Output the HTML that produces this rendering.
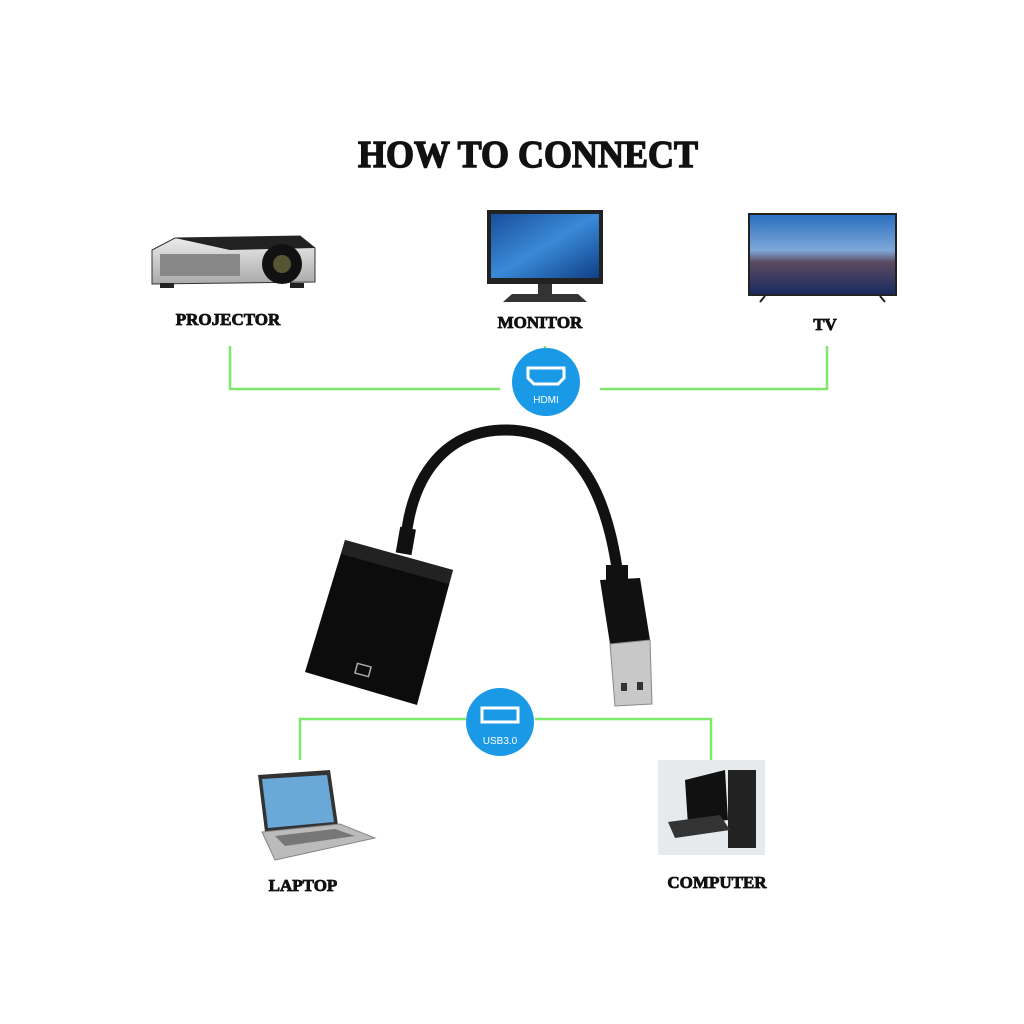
<!DOCTYPE html>
<html><head><meta charset="utf-8"><style>
html,body{margin:0;padding:0;background:#fff;}
svg{display:block}
.t{font-family:"Liberation Serif",serif;font-weight:bold;fill:#111;stroke:#111;stroke-width:0.8;}
</style></head><body>
<svg width="1024" height="1024" viewBox="0 0 1024 1024" xmlns="http://www.w3.org/2000/svg">
<defs>
<linearGradient id="scr" x1="0" y1="0" x2="1" y2="1"><stop offset="0" stop-color="#1a4e9a"/><stop offset="0.5" stop-color="#3a8ad8"/><stop offset="1" stop-color="#0f3f86"/></linearGradient>
<linearGradient id="tv" x1="0" y1="0" x2="0" y2="1"><stop offset="0" stop-color="#2a6fc0"/><stop offset="0.45" stop-color="#7fa8d8"/><stop offset="0.6" stop-color="#5a4a60"/><stop offset="1" stop-color="#1a2a60"/></linearGradient>
<linearGradient id="proj" x1="0" y1="0" x2="0" y2="1"><stop offset="0" stop-color="#eee"/><stop offset="1" stop-color="#aaa"/></linearGradient>
</defs>
<text x="528" y="167" text-anchor="middle" class="t" font-size="38" textLength="340" lengthAdjust="spacingAndGlyphs" style="stroke-width:1.4">HOW TO CONNECT</text>

<!-- projector -->
<path d="M152 250 L175 238 L300 236 L315 248 L315 282 L152 284 Z" fill="url(#proj)" stroke="#333"/>
<path d="M175 238 L300 236 L315 248 L230 250 Z" fill="#222"/>
<rect x="160" y="254" width="80" height="22" fill="#888"/>
<circle cx="282" cy="264" r="20" fill="#111"/><circle cx="282" cy="264" r="9" fill="#553"/>
<rect x="160" y="283" width="14" height="5" fill="#222"/><rect x="290" y="283" width="14" height="5" fill="#222"/>
<text x="228" y="325" text-anchor="middle" class="t" font-size="17">PROJECTOR</text>

<!-- monitor -->
<rect x="487" y="210" width="116" height="74" fill="#222"/>
<rect x="491" y="214" width="108" height="64" fill="url(#scr)"/>
<rect x="538" y="284" width="14" height="12" fill="#333"/>
<path d="M503 302 L512 294 L578 294 L587 302 Z" fill="#333"/>
<text x="540" y="328" text-anchor="middle" class="t" font-size="17">MONITOR</text>

<!-- tv -->
<rect x="748" y="213" width="149" height="83" fill="#222"/>
<rect x="750" y="215" width="145" height="79" fill="url(#tv)"/>
<path d="M765 296 L760 302 M880 296 L885 302" stroke="#222" stroke-width="2"/>
<text x="825" y="330" text-anchor="middle" class="t" font-size="17">TV</text>

<!-- green lines -->
<g stroke="#7ee86a" stroke-width="2.5" fill="none">
<path d="M230 346 V389 H500"/><path d="M600 389 H827 V346"/><path d="M545 346 V356"/>
<path d="M300 760 V719 H466"/><path d="M535 719 H711 V760"/>
</g>
<circle cx="546" cy="382" r="34" fill="#1a9ae6"/>
<path d="M528 368 H564 V378 L558 384 H534 L528 378 Z" fill="none" stroke="#fff" stroke-width="3"/>
<text x="546" y="403" text-anchor="middle" font-family="Liberation Sans,sans-serif" font-size="10" fill="#fff">HDMI</text>
<circle cx="500" cy="722" r="34" fill="#1a9ae6"/>
<rect x="482" y="708" width="36" height="14" fill="none" stroke="#fff" stroke-width="3"/>
<text x="500" y="744" text-anchor="middle" font-family="Liberation Sans,sans-serif" font-size="10" fill="#fff">USB3.0</text>

<!-- cable -->
<path d="M405 548 C410 470 450 430 505 430 C570 430 605 480 618 575" fill="none" stroke="#111" stroke-width="11" stroke-linecap="round"/>
<rect x="398" y="528" width="16" height="26" fill="#111" transform="rotate(10 406 540)"/>
<path d="M345 540 L453 570 L417 705 L305 672 Z" fill="#0c0c0c"/>
<path d="M345 540 L453 570 L449 584 L341 554 Z" fill="#222"/>
<rect x="356" y="665" width="14" height="10" fill="none" stroke="#aaa" stroke-width="1.5" transform="rotate(15 363 670)"/>
<rect x="606" y="565" width="22" height="20" fill="#111"/>
<path d="M600 580 L640 578 L650 640 L610 644 Z" fill="#111"/>
<path d="M610 644 L650 640 L652 704 L615 706 Z" fill="#c8c8c8" stroke="#888"/>
<rect x="621" y="683" width="6" height="8" fill="#333"/><rect x="637" y="682" width="6" height="8" fill="#333"/>

<!-- laptop -->
<path d="M258 775 L330 770 L338 825 L265 832 Z" fill="#333"/>
<path d="M262 779 L327 775 L334 822 L268 828 Z" fill="#6aa8d8"/>
<path d="M262 832 L340 824 L375 838 L275 860 Z" fill="#bbb" stroke="#888"/>
<path d="M275 836 L335 829 L355 836 L285 846 Z" fill="#777"/>
<text x="303" y="891" text-anchor="middle" class="t" font-size="17">LAPTOP</text>

<!-- computer -->
<rect x="658" y="760" width="107" height="95" fill="#e6eaec"/>
<path d="M685 780 L725 770 L728 820 L688 825 Z" fill="#111"/>
<rect x="728" y="770" width="28" height="78" fill="#222"/>
<path d="M668 822 L720 815 L730 830 L675 838 Z" fill="#333"/>
<text x="717" y="888" text-anchor="middle" class="t" font-size="17">COMPUTER</text>
</svg>
</body></html>
